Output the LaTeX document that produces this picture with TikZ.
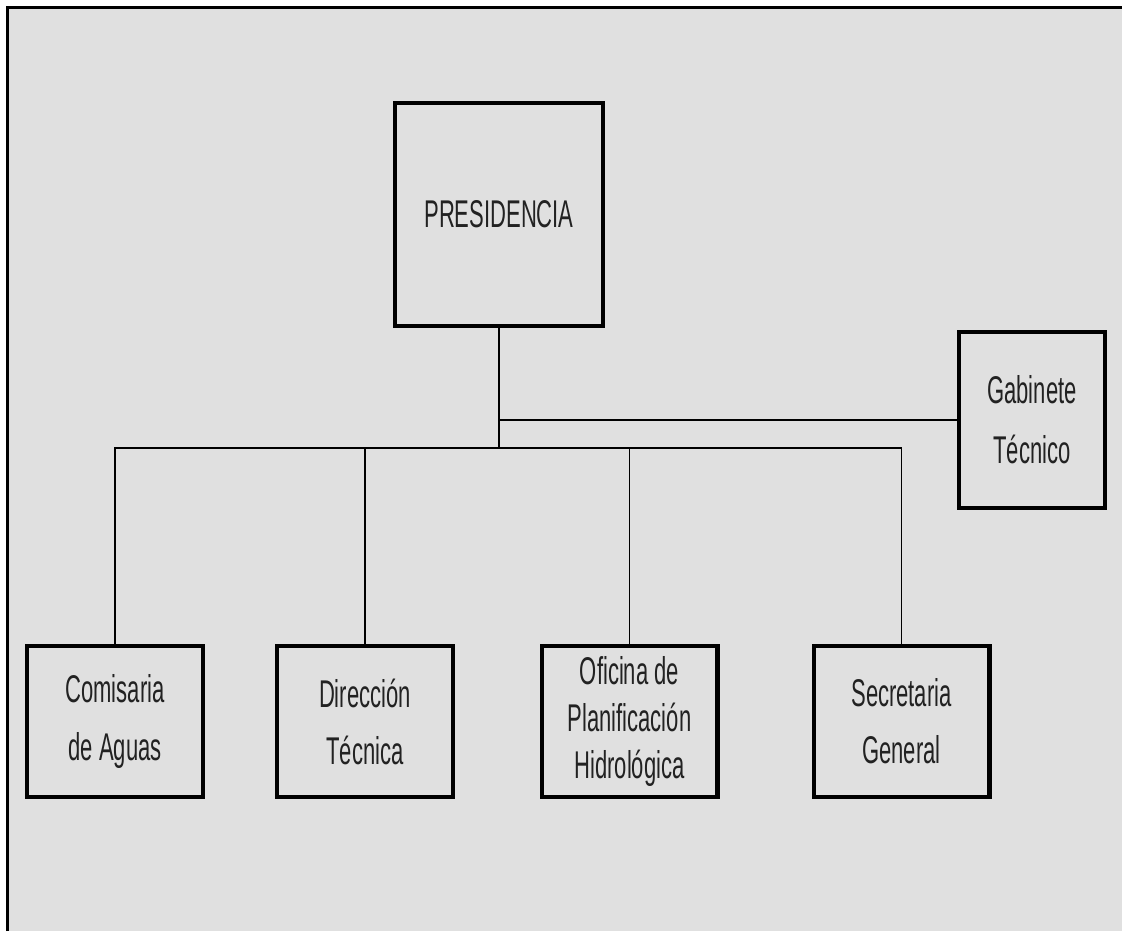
\documentclass[tikz,border=0pt]{standalone}
\usepackage{fontspec}
\usepackage{tikz}
\usetikzlibrary{positioning}
\newfontfamily\boxfont[FakeStretch=0.57]{Liberation Sans}
\definecolor{figDots}{HTML}{E0E0E0}
\definecolor{figText}{HTML}{222222}

\begin{document}
\begin{tikzpicture}[
  x=0.02cm, y=-0.02cm,
  every node/.style={font=\boxfont},
  unit/.style={draw=black, line width=2.3pt, fill=figDots, align=center,
    text=figText, inner sep=0pt, minimum width=3.52cm,
    minimum height=3.02cm, font=\boxfont\fontsize{22}{32.5}\selectfont},
  head/.style={unit, minimum width=4.16cm, minimum height=4.46cm},
  side/.style={unit, minimum width=2.92cm, minimum height=3.52cm,
    font=\boxfont\fontsize{22}{34}\selectfont},
  link/.style={line width=0.8pt, black},
]
\useasboundingbox (0,0) rectangle (1122,931);

% Background and frame
\fill[figDots] (7.5,7.5) rectangle (1122,931);
\draw[line width=1.7pt] (7.5,931) -- (7.5,7.5) -- (1122,7.5);

% Boxes
\node[head] (presidencia) at (499,214.5) {PRESIDENCIA};
\node[side] (gabinete) at (1032,420) {Gabinete\\Técnico};
\node[unit] (comisaria) at (115,721.5) {Comisaria\\de Aguas};
\node[unit] (direccion) at (365,721.5) {Dirección\\Técnica};
\node[unit, font=\boxfont\fontsize{22}{26.5}\selectfont] (oficina) at (629.5,721.5)
  {Oficina de\\Planificación\\Hidrológica};
\node[unit] (secretaria) at (901.5,721.5) {Secretaria\\General};

% Connectors
\coordinate (bus) at (499,448);
\draw[link] (presidencia.south) -- (bus);
\draw[link] (presidencia.south |- gabinete.west) -- (gabinete.west);
\draw[link] (comisaria.north) -- (comisaria.north |- bus) -| (secretaria.north);
\draw[link] (direccion.north) -- (direccion.north |- bus);
\draw[link] (oficina.north) -- (oficina.north |- bus);

\end{tikzpicture}
\end{document}
